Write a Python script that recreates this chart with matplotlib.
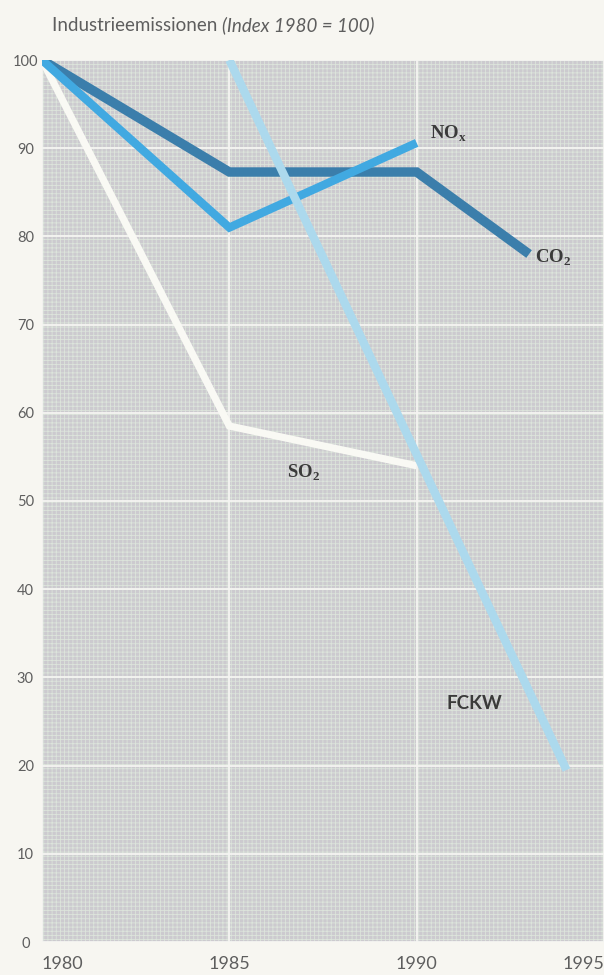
import matplotlib.pyplot as plt
import matplotlib as mpl

# Werte (Index 1980 = 100)
co2_years = [1980, 1985, 1990, 1993]
co2_vals = [100, 87.3, 87.3, 78]
nox_years = [1980, 1985, 1990]
nox_vals = [100, 81, 90.6]
so2_years = [1980, 1985, 1990]
so2_vals = [100, 58.5, 54]
fckw_years = [1985, 1994]
fckw_vals = [100, 19.5]

year_ticks = [1980, 1985, 1990, 1995]
value_ticks = [0, 10, 20, 30, 40, 50, 60, 70, 80, 90, 100]

paper = "#f7f6f1"
text_col = "#5e5e5e"
mpl.rcParams["hatch.linewidth"] = 0.6
mpl.rcParams["mathtext.fontset"] = "custom"

fig = plt.figure(figsize=(6.04, 9.75), dpi=100, facecolor=paper)
ax = fig.add_axes([42 / 604, 33 / 975, 562 / 604, 882 / 975])
ax.set_facecolor("#cccacf")
# feines Raster des Hintergrunds
ax.add_patch(mpl.patches.Rectangle((0, 0), 1, 1, transform=ax.transAxes,
                                   facecolor="none", edgecolor="#dce4db",
                                   hatch="++++", linewidth=0, zorder=0))

ax.set_xlim(1980, 1995)
ax.set_ylim(0, 100)
ax.set_xticks(year_ticks)
ax.set_yticks(value_ticks)
ax.grid(True, color="#f5f5f2", linewidth=1.3, zorder=1)
ax.set_axisbelow(True)
for s in ax.spines.values():
    s.set_visible(False)

lw_kw = dict(solid_capstyle="butt", solid_joinstyle="miter")
ax.plot(co2_years, co2_vals, color="#3b7eab", linewidth=6.8, zorder=3, **lw_kw)
ax.plot(nox_years, nox_vals, color="#41a9e1", linewidth=6.0, zorder=4, **lw_kw)
ax.plot(so2_years, so2_vals, color="#f9f9f4", linewidth=5.2, zorder=3, **lw_kw)
ax.plot(fckw_years, fckw_vals, color="#acd9ed", linewidth=6.0, zorder=5, **lw_kw)

ax.tick_params(length=0, colors=text_col)
ax.tick_params(axis="y", pad=12, labelsize=10.5)
ax.tick_params(axis="x", pad=10, labelsize=13)
for lab in ax.get_yticklabels():
    lab.set_horizontalalignment("center")
    lab.set_fontfamily("Lato")
xl = ax.get_xticklabels()
for lab in xl:
    lab.set_fontfamily("Lato")
xl[0].set_horizontalalignment("left")
xl[-1].set_horizontalalignment("right")

serif = dict(family="Liberation Serif", fontweight="bold", color="#3a3a3a",
             fontsize=13.5, va="center", zorder=6)
ax.text(1990.35, 91.6, r"NO$_\mathregular{x}$", **serif)
ax.text(1993.15, 77.6, r"CO$_\mathregular{2}$", **serif)
ax.text(1986.55, 53.2, r"SO$_\mathregular{2}$", **serif)
ax.text(1990.8, 27.0, "FCKW", family="Lato", fontweight="bold",
        color="#3a3a3a", fontsize=13.5, va="center", zorder=6)

t1 = fig.text(52 / 604, 1 - 31 / 975, "Industrieemissionen ", family="Lato",
              fontsize=13.5, color=text_col, va="baseline")
ax.annotate("(Index 1980 = 100)", xy=(1, 0), xycoords=t1, family="Lato",
            style="italic", fontsize=13.5, color=text_col, va="bottom")

fig.savefig("out.png", dpi=100, facecolor=paper)
